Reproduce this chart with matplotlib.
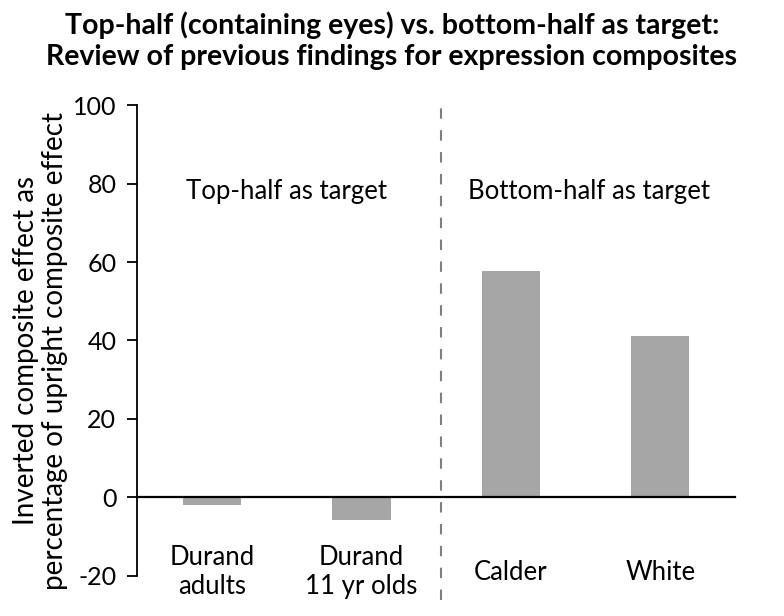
import matplotlib

matplotlib.use("Agg")
import matplotlib.pyplot as plt

plt.rcParams["font.family"] = ["Lato", "DejaVu Sans"]
plt.rcParams["axes.unicode_minus"] = False

# Data
categories = ["Durand\nadults", "Durand\n11 yr olds", "Calder", "White"]
values = [-1.8, -5.7, 57.7, 41.1]
group_labels = ["Top-half as target", "Bottom-half as target"]
y_ticks = [-20, 0, 20, 40, 60, 80, 100]

title = ("Top-half (containing eyes) vs. bottom-half as target:\n"
         "Review of previous findings for expression composites")
ylabel = "Inverted composite effect as\npercentage of upright composite effect"

fig = plt.figure(figsize=(7.84, 6.16), dpi=100)
ax = fig.add_axes([0.175, 0.065, 0.7625, 0.7645])

x = list(range(len(categories)))
ax.bar(x, values, width=0.39, color="#a6a6a6", zorder=1)

ax.set_xlim(-0.5, len(categories) - 0.5)
ax.set_ylim(y_ticks[0], y_ticks[-1])
ax.set_yticks(y_ticks)
ax.tick_params(axis="y", labelsize=18, length=7, width=1.3, pad=8, direction="out")
ax.set_xticks([])

for side in ("top", "right"):
    ax.spines[side].set_visible(False)
ax.spines["left"].set_linewidth(1.3)
ax.spines["bottom"].set_position(("data", 0))
ax.spines["bottom"].set_linewidth(1.6)
ax.spines["bottom"].set_zorder(3)

# category labels sit inside the plot, near the bottom
for xi, label in zip(x, categories):
    ax.text(xi, -19.0, label, ha="center", va="center", fontsize=18.5,
            linespacing=1.2)

# divider between the two groups
ax.axvline(1.53, ymin=-0.05, ymax=1.0, color="#7f7f7f", lw=1.5,
           dashes=(5, 5.5), clip_on=False)

ax.text(0.5, 78.0, group_labels[0], ha="center", va="center", fontsize=18.5)
ax.text(2.52, 78.0, group_labels[1], ha="center", va="center", fontsize=18.5)

ax.set_ylabel(ylabel, fontsize=20, linespacing=1.15)
ax.yaxis.set_label_coords(-0.115, 0.478)
fig.suptitle(title, fontsize=20.5, fontweight="bold", y=0.982, linespacing=1.25)

fig.savefig("out.png", dpi=100)
